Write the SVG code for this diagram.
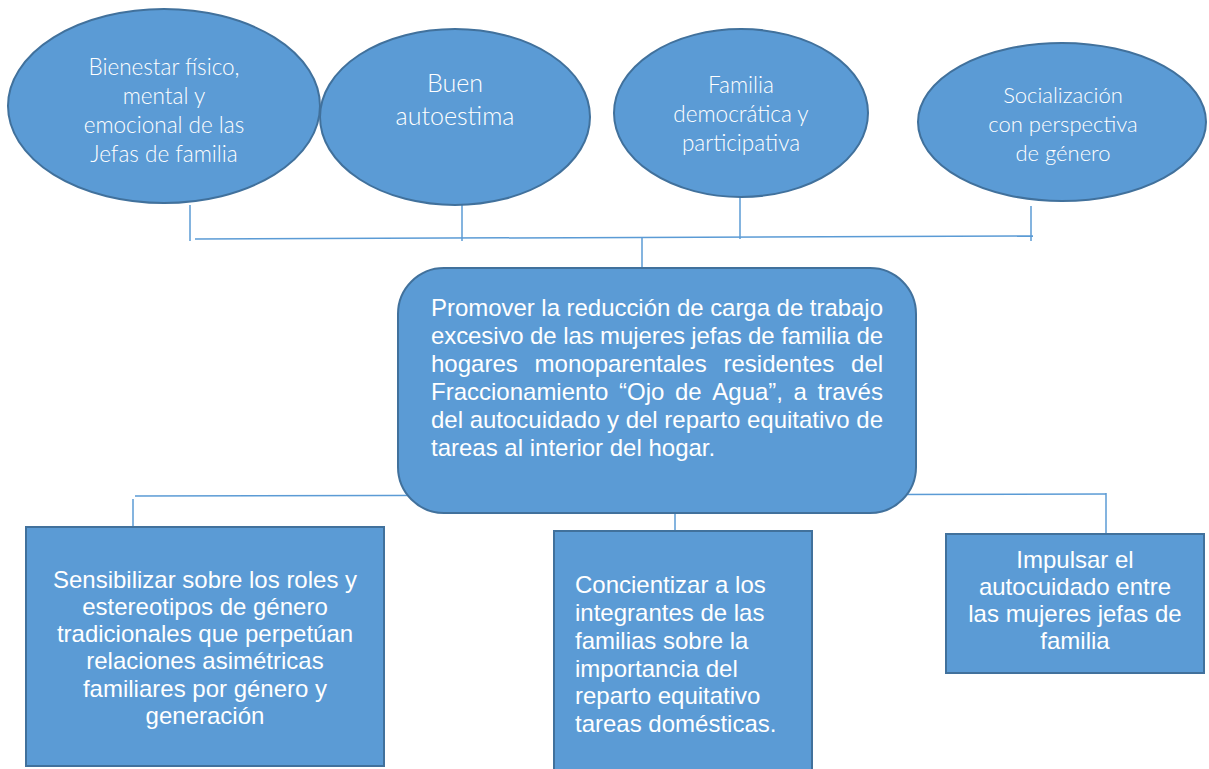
<svg xmlns="http://www.w3.org/2000/svg" width="1209" height="769" viewBox="0 0 1209 769">
<style>
.shape{fill:#5B9BD5;stroke:#41719C;stroke-width:2}
.conn{stroke:#5B9BD5;stroke-width:1.5;fill:none}
.et{font-family:Lato,"Open Sans",sans-serif;font-weight:300;fill:#fff;text-anchor:middle}
.bt{font-family:"Liberation Sans",Arial,sans-serif;font-size:24px;fill:#fff}
.c{text-anchor:middle}
</style>
<rect width="1209" height="769" fill="#fff"/>
<g id="connectors">
<line class="conn" x1="190" y1="205" x2="190" y2="241"/>
<line class="conn" x1="462" y1="205" x2="462" y2="241"/>
<line class="conn" x1="740" y1="196" x2="740" y2="239"/>
<line class="conn" x1="1031" y1="206" x2="1031" y2="241"/>
<line class="conn" x1="195" y1="239" x2="1033" y2="236"/>
<line class="conn" x1="642" y1="237" x2="642" y2="268"/>
<line class="conn" x1="135" y1="496" x2="1106" y2="494"/>
<line class="conn" x1="133" y1="499" x2="133" y2="527"/>
<line class="conn" x1="1106" y1="493" x2="1106" y2="534"/>
<line class="conn" x1="675" y1="513" x2="675" y2="531"/>
</g>
<g id="e1">
<ellipse class="shape" cx="164" cy="106" rx="156" ry="97"/>
<text class="et" font-size="22.5"><tspan x="164" y="75">Bienestar físico,</tspan><tspan x="164" y="104">mental y</tspan><tspan x="164" y="133">emocional de las</tspan><tspan x="164" y="162">Jefas de familia</tspan></text>
</g>
<g id="e2">
<ellipse class="shape" cx="455" cy="117" rx="135" ry="88"/>
<text class="et" font-size="25"><tspan x="455" y="92">Buen</tspan><tspan x="455" y="125">autoestima</tspan></text>
</g>
<g id="e3">
<ellipse class="shape" cx="741" cy="113" rx="127" ry="84"/>
<text class="et" font-size="22.5"><tspan x="741" y="93">Familia</tspan><tspan x="741" y="122">democrática y</tspan><tspan x="741" y="151">participativa</tspan></text>
</g>
<g id="e4">
<ellipse class="shape" cx="1062" cy="122" rx="144" ry="79"/>
<text class="et" font-size="22" font-weight="400"><tspan x="1063" y="103">Socialización</tspan><tspan x="1063" y="132">con perspectiva</tspan><tspan x="1063" y="161">de género</tspan></text>
</g>
<g id="center">
<rect class="shape" x="398" y="268" width="518" height="245" rx="46" ry="46"/>
<text class="bt">
<tspan x="431" y="316" textLength="452" lengthAdjust="spacing">Promover la reducción de carga de trabajo</tspan>
<tspan x="431" y="344" textLength="452" lengthAdjust="spacing">excesivo de las mujeres jefas de familia de</tspan>
<tspan x="431" y="372">hogares</tspan><tspan x="534.6" y="372">monoparentales</tspan><tspan x="723.5" y="372">residentes</tspan><tspan x="851.1" y="372">del</tspan>
<tspan x="431" y="400">Fraccionamiento</tspan><tspan x="619" y="400">“Ojo</tspan><tspan x="675" y="400">de</tspan><tspan x="712.3" y="400">Agua”,</tspan><tspan x="793.6" y="400">a</tspan><tspan x="817.6" y="400">través</tspan>
<tspan x="431" y="428" textLength="452" lengthAdjust="spacing">del autocuidado y del reparto equitativo de</tspan>
<tspan x="431" y="456">tareas al interior del hogar.</tspan>
</text>
</g>
<g id="b1">
<rect class="shape" x="26" y="527" width="358" height="239"/>
<text class="bt c"><tspan x="205" y="588">Sensibilizar sobre los roles y</tspan><tspan x="205" y="615">estereotipos de género</tspan><tspan x="205" y="642">tradicionales que perpetúan</tspan><tspan x="205" y="669">relaciones asimétricas</tspan><tspan x="205" y="697">familiares por género y</tspan><tspan x="205" y="724">generación</tspan></text>
</g>
<g id="b2">
<rect class="shape" x="554" y="531" width="258" height="250"/>
<text class="bt"><tspan x="575" y="593">Concientizar a los</tspan><tspan x="575" y="621">integrantes de las</tspan><tspan x="575" y="649">familias sobre la</tspan><tspan x="575" y="677">importancia del</tspan><tspan x="575" y="704">reparto equitativo</tspan><tspan x="575" y="732">tareas domésticas.</tspan></text>
</g>
<g id="b3">
<rect class="shape" x="946" y="534" width="258" height="139"/>
<text class="bt c"><tspan x="1075" y="568">Impulsar el</tspan><tspan x="1075" y="595">autocuidado entre</tspan><tspan x="1075" y="622">las mujeres jefas de</tspan><tspan x="1075" y="649">familia</tspan></text>
</g>
</svg>
